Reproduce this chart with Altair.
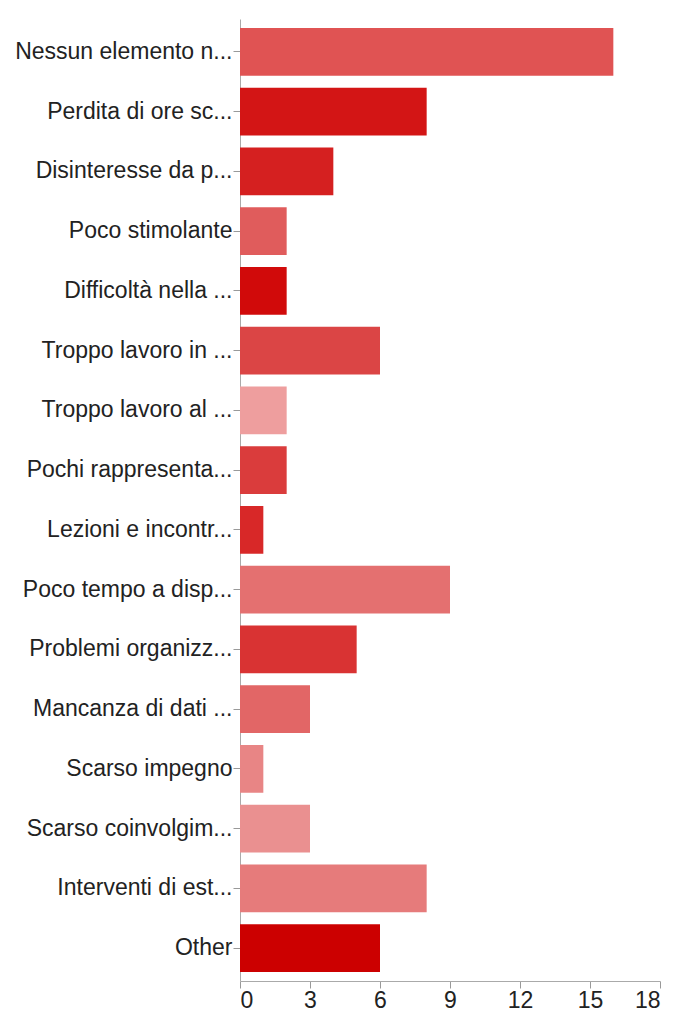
import altair as alt
import pandas as pd

categories = [
    "Nessun elemento n...",
    "Perdita di ore sc...",
    "Disinteresse da p...",
    "Poco stimolante",
    "Difficoltà nella ...",
    "Troppo lavoro in ...",
    "Troppo lavoro al ...",
    "Pochi rappresenta...",
    "Lezioni e incontr...",
    "Poco tempo a disp...",
    "Problemi organizz...",
    "Mancanza di dati ...",
    "Scarso impegno",
    "Scarso coinvolgim...",
    "Interventi di est...",
    "Other",
]
counts = [16, 8, 4, 2, 2, 6, 2, 2, 1, 9, 5, 3, 1, 3, 8, 6]
palette = [
    "#E05353", "#D31515", "#D52020", "#E05C5C",
    "#D10A0A", "#DB4545", "#EE9E9E", "#DA3C3C",
    "#D82828", "#E47070", "#D93333", "#E26666",
    "#E88585", "#EA9090", "#E67B7B", "#CC0000",
]
x_ticks = [0, 3, 6, 9, 12, 15, 18]

df = pd.DataFrame({"cat": categories, "n": counts})

chart = (
    alt.Chart(df)
    .mark_bar()
    .encode(
        y=alt.Y(
            "cat:N",
            sort=None,
            title=None,
            scale=alt.Scale(paddingInner=0.2, paddingOuter=0.15),
            axis=alt.Axis(
                labelFont="Liberation Sans",
                labelFontSize=23,
                labelColor="#222222",
                labelLimit=400,
                labelPadding=1,
                tickSize=7,
                tickColor="#999999",
                domainColor="#aaaaaa",
                minExtent=227,
                maxExtent=227,
            ),
        ),
        x=alt.X(
            "n:Q",
            title=None,
            scale=alt.Scale(domain=[0, 18], nice=False),
            axis=alt.Axis(
                values=x_ticks,
                grid=False,
                labelFont="Liberation Sans",
                labelFontSize=23,
                labelColor="#222222",
                tickSize=7,
                tickColor="#999999",
                domainColor="#aaaaaa",
                labelPadding=1,
            ),
        ),
        color=alt.Color(
            "cat:N",
            scale=alt.Scale(domain=categories, range=palette),
            legend=None,
        ),
    )
    .properties(
        width=420,
        height=962,
        padding={"left": 5, "top": 11, "right": 5, "bottom": 5},
    )
    .configure_view(stroke=None)
)

chart.save("out.html", embed_options={"renderer": "svg", "actions": False})
